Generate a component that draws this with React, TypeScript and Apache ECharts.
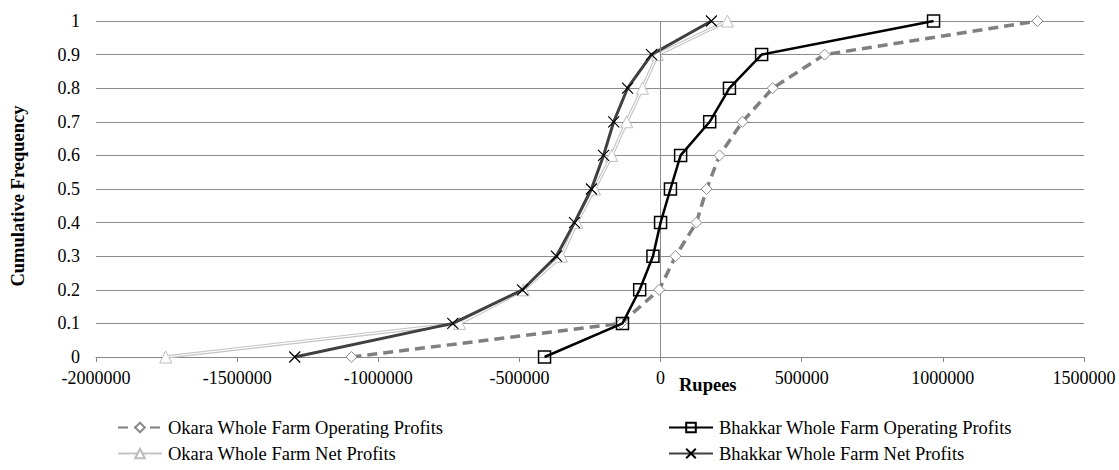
import React, { useEffect, useRef } from "react";
import * as echarts from "echarts";

const freq = [0, 0.1, 0.2, 0.3, 0.4, 0.5, 0.6, 0.7, 0.8, 0.9, 1];
const okaraOperating = [-1095000, -140000, -5000, 53000, 127000, 163000, 209000, 290000, 397000, 581000, 1335000];
const bhakkarOperating = [-411000, -135000, -74000, -27000, 0, 35000, 71000, 174000, 244000, 358000, 967000];
const okaraNet = [-1753000, -712000, -485000, -351000, -297000, -234000, -173000, -120000, -64000, -11000, 237000];
const bhakkarNet = [-1296000, -736000, -489000, -369000, -305000, -245000, -202000, -166000, -117000, -32000, 180000];
const xTicks = { min: -2000000, max: 1500000, step: 500000 };
const names = [
  "Okara Whole Farm Operating Profits",
  "Bhakkar Whole Farm Operating Profits",
  "Okara Whole Farm Net Profits",
  "Bhakkar Whole Farm Net Profits",
];

const pair = (xs: number[]) => xs.map((x, i) => [x, freq[i]]);
const FONT = "Liberation Serif";
const X_PATH = "path://M0,0L10,10M10,0L0,10";

export default function App() {
  const ref = useRef<HTMLDivElement>(null);
  useEffect(() => {
    const chart = echarts.init(ref.current!, null, { renderer: "svg" });
    const legendItem = (name: string, left: number, top: number) => ({
      orient: "horizontal",
      left,
      top,
      itemWidth: 44,
      itemHeight: 12,
      itemGap: 10,
      padding: 0,
      selectedMode: false,
      textStyle: { fontFamily: FONT, fontSize: 18.5, color: "#000", padding: [0, 0, 0, 1] },
      data: [name],
    });
    chart.setOption({
      animation: false,
      textStyle: { fontFamily: FONT },
      grid: { left: 96, right: 35, top: 21, bottom: 113, containLabel: false },
      xAxis: {
        type: "value",
        min: xTicks.min,
        max: xTicks.max,
        interval: xTicks.step,
        axisLine: { show: true, lineStyle: { color: "#888", width: 1 } },
        axisTick: { show: true, length: 5, lineStyle: { color: "#888" } },
        splitLine: { show: false },
        axisLabel: { formatter: (v: number) => String(v), fontFamily: FONT, fontSize: 18, color: "#000", margin: 12 },
      },
      yAxis: {
        type: "value",
        min: 0,
        max: 1,
        interval: 0.1,
        axisLine: { show: false },
        axisTick: { show: false },
        splitLine: { show: true, lineStyle: { color: "#8c8c8c", width: 1 } },
        axisLabel: {
          formatter: (v: number) => String(+v.toFixed(1)),
          fontFamily: FONT,
          fontSize: 18,
          color: "#000",
          margin: 16,
        },
      },
      legend: [
        legendItem(names[0], 117, 418),
        legendItem(names[2], 117, 444),
        legendItem(names[1], 668, 418),
        legendItem(names[3], 668, 444),
      ],
      graphic: [
        {
          type: "text",
          x: 18,
          y: 196,
          rotation: Math.PI / 2,
          style: {
            text: "Cumulative Frequency",
            font: `bold 18.5px ${FONT}`,
            fill: "#000",
            align: "center",
            verticalAlign: "middle",
          },
        },
        {
          type: "text",
          x: 679,
          y: 385,
          style: { text: "Rupees", font: `bold 18.5px ${FONT}`, fill: "#000", verticalAlign: "middle" },
        },
      ],
      series: [
        {
          name: names[2],
          type: "line",
          data: pair(okaraNet),
          symbol: "triangle",
          symbolSize: 12,
          lineStyle: { color: "#c4c4c4", width: 3.5 },
          itemStyle: { color: "#fff", borderColor: "#bdbdbd", borderWidth: 1 },
          z: 2,
          markLine: {
            silent: true,
            symbol: ["none", "none"],
            label: { show: false },
            lineStyle: { color: "#8c8c8c", width: 1, type: "solid" },
            data: [{ xAxis: 0 }],
          },
        },
        {
          name: "okaraNetInner",
          type: "line",
          data: pair(okaraNet),
          symbol: "none",
          lineStyle: { color: "#fff", width: 1.2 },
          z: 3,
          silent: true,
        },
        {
          name: names[3],
          type: "line",
          data: pair(bhakkarNet),
          symbol: X_PATH,
          symbolSize: 11,
          lineStyle: { color: "#404040", width: 3 },
          itemStyle: { color: "none", borderColor: "#000", borderWidth: 1.2 },
          z: 4,
        },
        {
          name: names[0],
          type: "line",
          data: pair(okaraOperating),
          symbol: "diamond",
          symbolSize: 11,
          lineStyle: { color: "#808080", width: 3.5, type: [10, 6] },
          itemStyle: { color: "#fff", borderColor: "#8a8a8a", borderWidth: 1 },
          z: 5,
        },
        {
          name: names[1],
          type: "line",
          data: pair(bhakkarOperating),
          symbol: "rect",
          symbolSize: 12,
          lineStyle: { color: "#000", width: 2.5 },
          itemStyle: { color: "none", borderColor: "#000", borderWidth: 1.5 },
          z: 6,
        },
      ],
    });
    return () => chart.dispose();
  }, []);
  return (
    <div
      ref={ref}
      style={{ position: "fixed", left: 0, top: 0, width: 1119, height: 470, background: "#fff" }}
    />
  );
}
